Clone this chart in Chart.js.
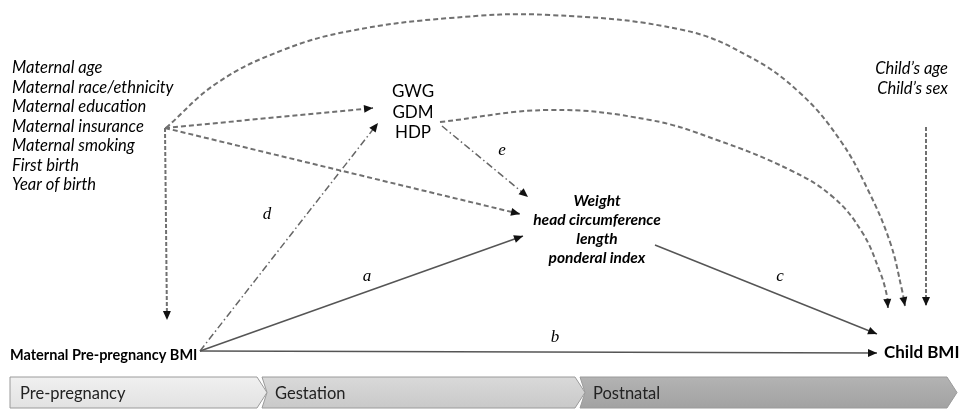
<!DOCTYPE html>
<html>
<head>
<meta charset="utf-8">
<script src="https://cdn.jsdelivr.net/npm/chart.js@4.4.0/dist/chart.umd.min.js"></script>
<style>
  html, body { margin: 0; padding: 0; background: #fff; }
  #wrap { width: 960px; height: 409px; position: relative; }
</style>
</head>
<body>
<div id="wrap"><canvas id="myChart"></canvas></div>
<script>
(function() {
// ---- text content ----
const covariates = ['Maternal age', 'Maternal race/ethnicity', 'Maternal education',
    'Maternal insurance', 'Maternal smoking', 'First birth', 'Year of birth'];
const pregnancyFactors = ['GWG', 'GDM', 'HDP'];
const birthOutcomes = ['Weight', 'head circumference', 'length', 'ponderal index'];
const childCovariates = ['Child\u2019s age', 'Child\u2019s sex'];
const exposure = 'Maternal Pre-pregnancy BMI';
const outcome = 'Child BMI';
const phases = ['Pre-pregnancy', 'Gestation', 'Postnatal'];
const pathLabels = ['a', 'b', 'c', 'd', 'e'];

// ---- layout (diagram units = pixels of a 960x409 sheet) ----
const covariateAnchor = [12, 68];
const pregnancyAnchor = [413, 92];
const outcomeAnchor = [597, 201];
const childCovAnchor = [948, 69];
const lineGap = 19.5;
const phaseStops = [10, 262, 580, 952];
const pathLabelPos = [[367, 277], [555, 338], [780, 277], [267, 215], [502, 151]];

// edges: waypoints for each arrow
const edgeA = [[200, 351], [523, 236]];
const edgeB = [[200, 351], [877, 353]];
const edgeC = [[655, 245], [877, 334]];
const edgeD = [[200, 351], [378, 123]];
const edgeE = [[442, 126], [528, 197]];
const edgeCovGwg = [[165, 128], [373, 108]];
const edgeCovBirth = [[165, 128], [520, 214]];
const edgeCovBmi = [[165, 128], [167, 320]];
const edgeCovChild = [[166, 128], [217, 83], [283, 50], [350, 31], [450, 18], [550, 15],
    [683, 30], [750, 57], [800, 93], [840, 140], [868, 190], [890, 242], [902, 290], [905, 306]];
const edgeGdmChild = [[440, 122], [550, 110], [650, 120], [717, 140], [790, 170], [833, 197],
    [862, 232], [880, 272], [887, 296], [888, 308]];
const edgeChildCov = [[926, 127], [926, 306]];

const solid = { color: '#555555', width: 1.5, dash: [] };
const dashed = { color: '#707070', width: 2, dash: [5, 3] };
const fineDash = { color: '#707070', width: 2, dash: [4, 2] };
const dashDot = { color: '#666666', width: 1.5, dash: [7, 3, 1.5, 3] };

const edges = [
    { pts: edgeA, s: solid, t: 0 },
    { pts: edgeB, s: solid, t: 0 },
    { pts: edgeC, s: solid, t: 0 },
    { pts: edgeD, s: dashDot, t: 0 },
    { pts: edgeE, s: dashDot, t: 0 },
    { pts: edgeCovGwg, s: dashed, t: 0 },
    { pts: edgeCovBirth, s: dashed, t: 0 },
    { pts: edgeCovBmi, s: fineDash, t: 0 },
    { pts: edgeCovChild, s: dashed, t: 0.4 },
    { pts: edgeGdmChild, s: dashed, t: 0.4 },
    { pts: edgeChildCov, s: fineDash, t: 0 }
];

const canvas = document.getElementById('myChart');
const context = canvas.getContext('2d');

function drawLines(ctx, lines, x, y, gap, font, align) {
    ctx.font = font;
    ctx.textAlign = align;
    lines.forEach(function(txt, i) { ctx.fillText(txt, x, y + i * gap); });
}

const diagramPlugin = {
    id: 'diagram',
    beforeDatasetsDraw(chart) {
        const ctx = chart.ctx;
        const sx = chart.scales.x, sy = chart.scales.y;
        const X = v => sx.getPixelForValue(v), Y = v => sy.getPixelForValue(v);
        // phase band
        const top = Y(377), bot = Y(408), mid = (top + bot) / 2, tip = 10;
        const fills = [['#f0f0f0', '#e2e2e2'], ['#d9d9d9', '#c9c9c9'], ['#b3b3b3', '#a2a2a2']];
        ctx.save();
        for (let i = 0; i < phases.length; i++) {
            const x0 = X(phaseStops[i]), x1 = X(phaseStops[i + 1]);
            const last = i === phases.length - 1;
            ctx.beginPath();
            ctx.moveTo(x0, top);
            ctx.lineTo(x1 - 5, top);
            ctx.lineTo(x1 + tip - 5, mid);
            ctx.lineTo(x1 - 5, bot);
            ctx.lineTo(x0, bot);
            if (i > 0) ctx.lineTo(x0 + tip - 5, mid);
            ctx.closePath();
            const g = ctx.createLinearGradient(0, top, 0, bot);
            g.addColorStop(0, fills[i][0]);
            g.addColorStop(1, fills[i][1]);
            ctx.fillStyle = g;
            ctx.fill();
            ctx.strokeStyle = '#9a9a9a';
            ctx.lineWidth = 1;
            ctx.stroke();
            ctx.fillStyle = '#222';
            ctx.font = '16.5px Lato';
            ctx.textAlign = 'left';
            ctx.textBaseline = 'middle';
            ctx.fillText(phases[i], x0 + (i === 0 ? 10 : 13), mid + 1);
        }
        ctx.restore();
    },
    afterDatasetsDraw(chart) {
        const ctx = chart.ctx;
        const sx = chart.scales.x, sy = chart.scales.y;
        const X = v => sx.getPixelForValue(v), Y = v => sy.getPixelForValue(v);
        ctx.save();
        // arrowheads
        chart.data.datasets.forEach(function(ds, i) {
            const pts = chart.getDatasetMeta(i).data;
            const p1 = pts[pts.length - 1], p0 = pts[pts.length - 2];
            const ang = Math.atan2(p1.y - p0.y, p1.x - p0.x);
            const len = 9, hw = 4;
            ctx.beginPath();
            ctx.moveTo(p1.x, p1.y);
            ctx.lineTo(p1.x - len * Math.cos(ang) + hw * Math.sin(ang), p1.y - len * Math.sin(ang) - hw * Math.cos(ang));
            ctx.lineTo(p1.x - len * Math.cos(ang) - hw * Math.sin(ang), p1.y - len * Math.sin(ang) + hw * Math.cos(ang));
            ctx.closePath();
            ctx.fillStyle = '#111';
            ctx.fill();
        });
        // texts
        ctx.fillStyle = '#000';
        ctx.textBaseline = 'middle';
        drawLines(ctx, covariates, X(covariateAnchor[0]), Y(covariateAnchor[1]), lineGap, 'italic 16.5px Lato', 'left');
        drawLines(ctx, pregnancyFactors, X(pregnancyAnchor[0]), Y(pregnancyAnchor[1]), 20.5, '17px Lato', 'center');
        drawLines(ctx, birthOutcomes, X(outcomeAnchor[0]), Y(outcomeAnchor[1]), 19, 'italic bold 15.5px Lato', 'center');
        drawLines(ctx, childCovariates, X(childCovAnchor[0]), Y(childCovAnchor[1]), lineGap, 'italic 16.5px Lato', 'right');
        ctx.font = 'bold 14.5px Lato';
        ctx.textAlign = 'left';
        ctx.fillText(exposure, X(10), Y(355));
        ctx.font = 'bold 17px Lato';
        ctx.fillText(outcome, X(884), Y(353));
        ctx.font = 'italic 17px "Liberation Serif"';
        ctx.textAlign = 'center';
        pathLabels.forEach(function(l, i) { ctx.fillText(l, X(pathLabelPos[i][0]), Y(pathLabelPos[i][1])); });
        ctx.restore();
    }
};

const myChart = new Chart(context, {
    type: 'scatter',
    data: {
        datasets: edges.map(e => ({
            data: e.pts.map(p => ({ x: p[0], y: p[1] })),
            showLine: true,
            borderColor: e.s.color,
            borderWidth: e.s.width,
            borderDash: e.s.dash,
            tension: e.t,
            pointRadius: 0,
            fill: false
        }))
    },
    options: {
        responsive: true,
        maintainAspectRatio: false,
        animation: false,
        layout: { padding: 0 },
        plugins: { legend: { display: false }, tooltip: { enabled: false } },
        scales: {
            x: { type: 'linear', min: 0, max: 960, display: false },
            y: { type: 'linear', min: 0, max: 409, reverse: true, display: false }
        }
    },
    plugins: [diagramPlugin]
});
}
)();
</script>
</body>
</html>
